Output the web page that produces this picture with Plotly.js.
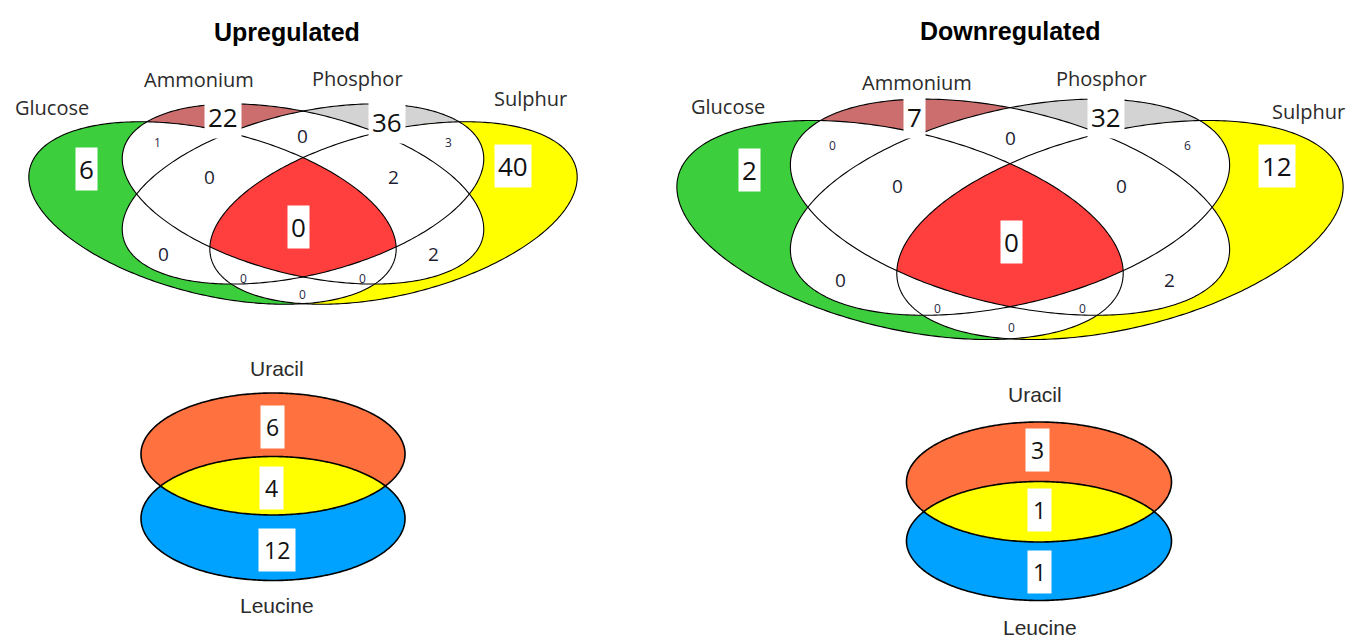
<!DOCTYPE html>
<html><head><meta charset="utf-8">
<script src="https://cdn.plot.ly/plotly-3.0.1.min.js"></script>
<style>html,body{margin:0;padding:0;background:#fff}#chart{width:1346px;height:642px}</style>
</head><body><div id="chart"></div>
<script>
// ================= DATA =================
const panelTitles = ['Upregulated', 'Downregulated'];
const setNames4 = ['Glucose', 'Ammonium', 'Phosphor', 'Sulphur'];
// region keys: G=Glucose, A=Ammonium, P=Phosphor, S=Sulphur
const regionKeys4 = ['G','A','P','S','GA','AP','PS','GAP','APS','GAPS','GP','AS','GPS','GAS','GS'];
const upCounts4   = [6, 22, 36, 40, 1, 0, 3, 0, 2, 0, 0, 2, 0, 0, 0];
const downCounts4 = [2,  7, 32, 12, 0, 0, 6, 0, 0, 0, 0, 2, 0, 0, 0];
const setNames2 = ['Uracil', 'Leucine'];
const regionKeys2 = ['U', 'UL', 'L'];
const upCounts2   = [6, 4, 12];
const downCounts2 = [3, 1, 1];

// ================= LAYOUT / GEOMETRY =================
const W = 1346, H = 642;
// four-set ellipses (Upregulated panel, pixel space, y down)
const geom4 = [
  {cx: 212.5, cy: 213, a: 188, b: 82, phi: 13.7},
  {cx: 303,   cy: 194, a: 185, b: 81, phi: 13.7},
  {cx: 303,   cy: 194, a: 185, b: 81, phi: -13.7},
  {cx: 393.5, cy: 213, a: 188, b: 82, phi: -13.7}
];
const panelTx = [
  p => p,
  p => [1010 + (p[0] - 303) * 1.215, 338 + (p[1] - 303) * 1.2]
];
const setColors4 = ['#3DCE3D', '#CD6E6E', '#D3D3D3', '#FFFF00'];
const allColor = '#FF3E3E';
const titlePos = [[287, 32], [1010, 31]];
const setLabelPos4 = [
  [[52,107],[199,79],[357,78],[530,98]],
  [[728,106],[917,82],[1101,78],[1308,111]]
];
const regionLabelPos4 = [
  [[86,169],[223,117],[387,122],[513,166],[157,142],[302,136],[448,142],[209,177],[393,177],[298,227],[163,254],[433,254],[243,278],[362,278],[302,294]],
  [[749,170],[914,117],[1106,117],[1277,166],[832,145],[1010,138],[1187,145],[897,186],[1121,186],[1011,242],[840,280],[1169,280],[937,308],[1082,308],[1011,327]]
];
const styleOf4 = {G:'big',A:'big',P:'big',S:'big',GAPS:'big',AP:'mid',GAP:'mid',APS:'mid',GP:'mid',AS:'mid',GA:'small',PS:'small',GPS:'small',GAS:'small',GS:'small'};

const geom2 = [
  [{cx:273, cy:454, rx:132, ry:61}, {cx:273, cy:518.5, rx:132, ry:62}],
  [{cx:1039, cy:482, rx:132.5, ry:60}, {cx:1039, cy:541, rx:132.5, ry:59.5}]
];
const setColors2 = ['#FF723F', '#00A2FF'];
const overlapColor2 = '#FFFF00';
const setLabelPos2 = [[[277,368],[277,605]], [[1035,394],[1040,627]]];
const regionLabelPos2 = [[[272,427],[271,488],[277,550]], [[1037,450],[1039,510],[1039,572]]];

// ================= HELPERS =================
function ellipsePts(cx, cy, a, b, phiDeg, n) {
  const ph = phiDeg * Math.PI / 180, c = Math.cos(ph), s = Math.sin(ph), pts = [];
  for (let i = 0; i < n; i++) {
    const t = 2 * Math.PI * i / n, u = a * Math.cos(t), v = b * Math.sin(t);
    pts.push([cx + u * c - v * s, cy + u * s + v * c]);
  }
  return pts;
}
function signedArea(poly) {
  let s = 0;
  for (let i = 0; i < poly.length; i++) {
    const p = poly[i], q = poly[(i + 1) % poly.length];
    s += p[0] * q[1] - q[0] * p[1];
  }
  return s / 2;
}
function clip(subject, clipPoly) {
  let out = subject.slice();
  const sgn = signedArea(clipPoly) > 0 ? 1 : -1;
  for (let i = 0; i < clipPoly.length && out.length; i++) {
    const A = clipPoly[i], B = clipPoly[(i + 1) % clipPoly.length];
    const side = p => sgn * ((B[0] - A[0]) * (p[1] - A[1]) - (B[1] - A[1]) * (p[0] - A[0]));
    const inp = out; out = [];
    for (let j = 0; j < inp.length; j++) {
      const P = inp[j], Q = inp[(j + 1) % inp.length];
      const sp = side(P), sq = side(Q);
      if (sp >= 0) {
        out.push(P);
        if (sq < 0) { const t = sp / (sp - sq); out.push([P[0] + t * (Q[0] - P[0]), P[1] + t * (Q[1] - P[1])]); }
      } else if (sq >= 0) {
        const t = sp / (sp - sq); out.push([P[0] + t * (Q[0] - P[0]), P[1] + t * (Q[1] - P[1])]);
      }
    }
  }
  return out;
}
const shapes = [], annotations = [];
function pathOf(pts) { return 'M' + pts.map(p => p[0].toFixed(2) + ',' + p[1].toFixed(2)).join('L') + 'Z'; }
function addFill(pts, color) {
  if (pts.length < 3) return;
  shapes.push({type:'path', xref:'x', yref:'y', path:pathOf(pts), fillcolor:color, line:{width:0}, layer:'above'});
}
function addOutline(pts, w) {
  shapes.push({type:'path', xref:'x', yref:'y', path:pathOf(pts), fillcolor:'rgba(0,0,0,0)', line:{color:'#000', width:w}, layer:'above'});
}
function addText(x, y, text, size, family, color, bg, pad) {
  const a = {x:x, y:y, xref:'x', yref:'y', text:String(text), showarrow:false,
    font:{family:family, size:size, color:color}, xanchor:'center', yanchor:'middle'};
  if (bg) { a.bgcolor = bg; a.borderpad = pad; }
  annotations.push(a);
}

const numFont = 'Open Sans, Noto Sans, sans-serif';
const styleDefs = {
  big:   {size: 26, color: '#111111', bg: '#FFFFFF', pad: 3},
  mid:   {size: 19, color: '#1d1d33', bg: null, pad: 0},
  small: {size: 12, color: '#2a2a44', bg: null, pad: 0}
};

// ================= FOUR-SET PANELS =================
[upCounts4, downCounts4].forEach((counts, pi) => {
  const T = panelTx[pi];
  const ells = geom4.map(g => ellipsePts(g.cx, g.cy, g.a, g.b, g.phi, 360).map(T));
  ells.forEach((e, i) => addFill(e, setColors4[i]));
  for (let i = 0; i < 4; i++) for (let j = i + 1; j < 4; j++) addFill(clip(ells[i], ells[j]), '#FFFFFF');
  let all = ells[0];
  for (let k = 1; k < 4; k++) all = clip(all, ells[k]);
  addFill(all, allColor);
  ells.forEach(e => addOutline(e, 1.1));

  addText(titlePos[pi][0], titlePos[pi][1], '<b>' + panelTitles[pi] + '</b>', 25, 'Liberation Sans, Arial, sans-serif', '#000', null, 0);
  setNames4.forEach((nm, i) => addText(setLabelPos4[pi][i][0], setLabelPos4[pi][i][1], nm, 20, numFont, '#2b2b2b', null, 0));
  regionKeys4.forEach((key, r) => {
    const st = styleDefs[styleOf4[key]];
    const pos = regionLabelPos4[pi][r];
    addText(pos[0], pos[1], counts[r], st.size, numFont, st.color, st.bg, st.pad);
  });
});

// ================= TWO-SET PANELS =================
[upCounts2, downCounts2].forEach((counts, pi) => {
  const g = geom2[pi];
  const ells = g.map(e => ellipsePts(e.cx, e.cy, e.rx, e.ry, 0, 360));
  ells.forEach((e, i) => addFill(e, setColors2[i]));
  addFill(clip(ells[0], ells[1]), overlapColor2);
  ells.forEach(e => addOutline(e, 1.6));
  setNames2.forEach((nm, i) => addText(setLabelPos2[pi][i][0], setLabelPos2[pi][i][1], nm, 21, 'Liberation Sans Narrow, Liberation Sans, Arial, sans-serif', '#2b2b2b', null, 0));
  regionKeys2.forEach((key, r) => {
    const pos = regionLabelPos2[pi][r];
    addText(pos[0], pos[1], counts[r], 23, numFont, '#111111', '#FFFFFF', 5);
  });
});

const layout = {
  width: W, height: H,
  margin: {l:0, r:0, t:0, b:0},
  paper_bgcolor: '#FFFFFF', plot_bgcolor: '#FFFFFF',
  showlegend: false,
  xaxis: {range: [0, W], visible: false, fixedrange: true},
  yaxis: {range: [H, 0], visible: false, fixedrange: true},
  shapes: shapes,
  annotations: annotations
};
Plotly.newPlot('chart', [{x: [], y: [], type: 'scatter', mode: 'markers', hoverinfo: 'skip'}], layout, {staticPlot: true});
</script>
</body></html>
